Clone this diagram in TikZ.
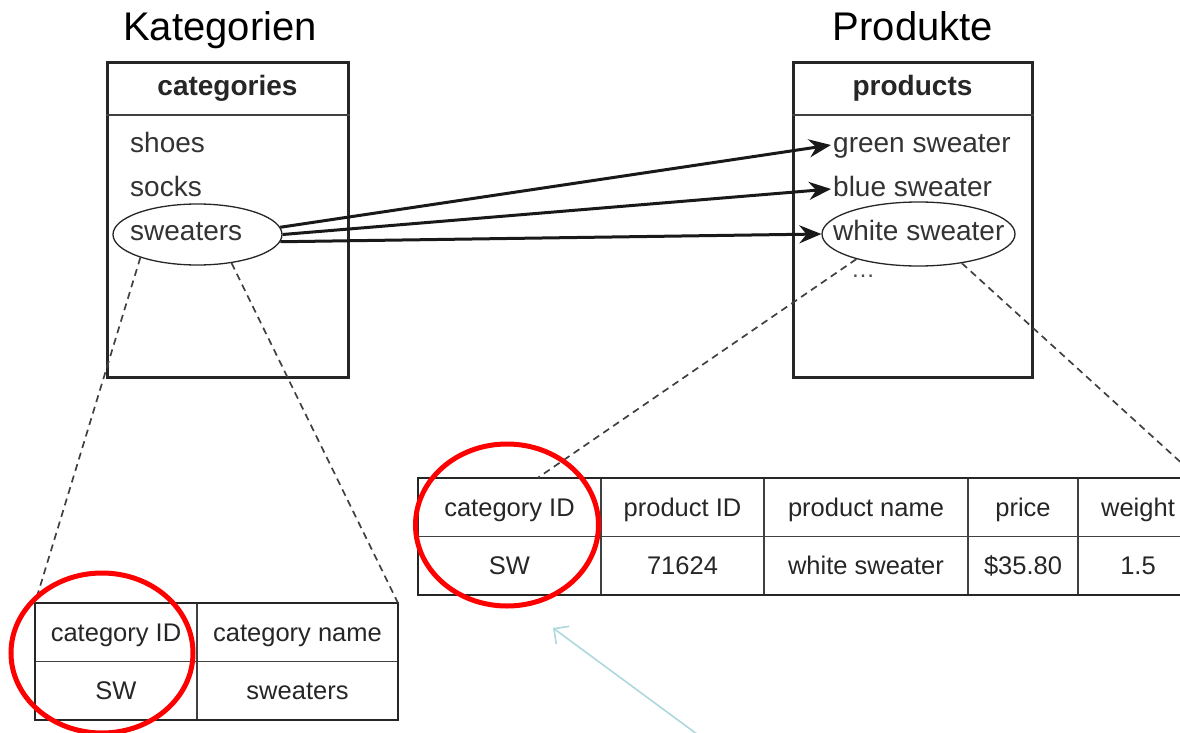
\documentclass[tikz,border=0pt]{standalone}
\usepackage{fontspec}
\setmainfont{Liberation Sans}
\usetikzlibrary{arrows.meta,shapes.geometric}

\definecolor{pointer}{RGB}{172,216,222}

\begin{document}
\begin{tikzpicture}[x=1pt, y=-1pt,
	title/.style={font=\fontsize{40}{44}\selectfont, anchor=base},
	entry/.style={font=\fontsize{28}{32}\selectfont, text=black!80, anchor=base west, inner sep=2pt, text height=20pt, text depth=6pt},
	head/.style={font=\bfseries\fontsize{28}{32}\selectfont, text=black!85, anchor=base},
	tabbox/.style={draw=black!85, line width=3pt, minimum width=241pt, minimum height=314pt},
	ring/.style={draw=black!85, line width=1.3pt, ellipse, inner sep=0pt},
	cell/.style={draw=black!75, line width=1.5pt, font=\fontsize{25.5}{28}\selectfont, text=black!85, anchor=north west, minimum height=58.5pt, inner sep=0pt, outer sep=0pt, text height=18.3pt, text depth=0pt},
	link/.style={draw=black!90, line width=3pt, -{Stealth[length=22pt, width=18pt]}},
	zoomline/.style={draw=black!75, line width=1.7pt, dash pattern=on 7pt off 5pt},
	redring/.style={draw=red, line width=5pt, ellipse, inner sep=0pt}]

	\useasboundingbox (0,0) rectangle (1180,733);
	\clip (0,0) rectangle (1180,733);

	% Ueberschriften
	\node[title] (kat) at (220,41) {Kategorien};
	\node[title] (prod) at (913,41) {Produkte};

	% Tabelle categories
	\node[tabbox] (catbox) at (227.5,220) {};
	\draw[black!75, line width=1.3pt] (catbox.west |- 0,115) -- (catbox.east |- 0,115);
	\node[head] (cathead) at (227.5,96) {categories};
	\node[entry] (shoes) at (128,152) {shoes};
	\node[entry] (socks) at (128,196) {socks};
	\node[entry] (sweaters) at (128,240) {sweaters};
	\node[ring, minimum width=169pt, minimum height=61pt] (swring) at (197.5,234.5) {};

	% Tabelle products
	\node[tabbox, minimum width=239pt] (prodbox) at (912.5,220) {};
	\draw[black!75, line width=1.3pt] (prodbox.west |- 0,115) -- (prodbox.east |- 0,115);
	\node[head] (prodhead) at (912.5,96) {products};
	\node[entry] (green) at (831,152) {green sweater};
	\node[entry] (blue) at (831,196) {blue sweater};
	\node[entry] (white) at (831,240) {white sweater};
	\node[ring, minimum width=193pt, minimum height=64pt] (whring) at (918.5,234) {};
	\node[font=\fontsize{24}{28}\selectfont, text=black!70] (more) at (863,276) {\dots};

	% Verweise
	\draw[link] (swring.5) -- (green.west);
	\draw[link] (swring.0) -- (blue.west);
	\draw[link] (swring.355) -- (whring.180);

	% Zeile categories
	\node[cell, minimum width=162pt] (c-id) at (35,603) {category ID};
	\node[cell, minimum width=201pt] (c-name) at (c-id.north east) {category name};
	\node[cell, minimum width=162pt] (c-id-v) at (c-id.south west) {SW};
	\node[cell, minimum width=201pt] (c-name-v) at (c-name.south west) {sweaters};
	\draw[black!85, line width=2.5pt] (c-id.north west) rectangle (c-name-v.south east);

	% Zeile products
	\node[cell, minimum width=183pt] (p-cat) at (418,478) {category ID};
	\node[cell, minimum width=163pt] (p-id) at (p-cat.north east) {product ID};
	\node[cell, minimum width=204pt] (p-name) at (p-id.north east) {product name};
	\node[cell, minimum width=110pt] (p-price) at (p-name.north east) {price};
	\node[cell, minimum width=120pt] (p-weight) at (p-price.north east) {weight};
	\node[cell, minimum width=183pt] (p-cat-v) at (p-cat.south west) {SW};
	\node[cell, minimum width=163pt] (p-id-v) at (p-id.south west) {71624};
	\node[cell, minimum width=204pt] (p-name-v) at (p-name.south west) {white sweater};
	\node[cell, minimum width=110pt] (p-price-v) at (p-price.south west) {\$35.80};
	\node[cell, minimum width=120pt] (p-weight-v) at (p-weight.south west) {1.5};
	\draw[black!85, line width=2.5pt] (p-cat.north west) rectangle (p-weight-v.south east);

	% Lupenlinien
	\draw[zoomline] (swring.202) -- (c-id.north west);
	\draw[zoomline] (swring.320) -- (c-name.north east);
	\draw[zoomline] (whring.202) -- ([xshift=28pt]p-cat.north);
	\draw[zoomline] (whring.326) -- (p-weight.north east);

	% Markierungen
	\node[redring, minimum width=182pt, minimum height=160pt] (ring-l) at (102,653) {};
	\node[redring, minimum width=183pt, minimum height=162pt] (ring-r) at (507,525) {};

	% Zeiger
	\coordinate (pt-start) at (705,740);
	\coordinate (pt-tip) at (553,628);
	\draw[pointer, line width=1.6pt, -{Straight Barb[length=11pt, width=22pt]}] (pt-start) -- (pt-tip);
\end{tikzpicture}
\end{document}
